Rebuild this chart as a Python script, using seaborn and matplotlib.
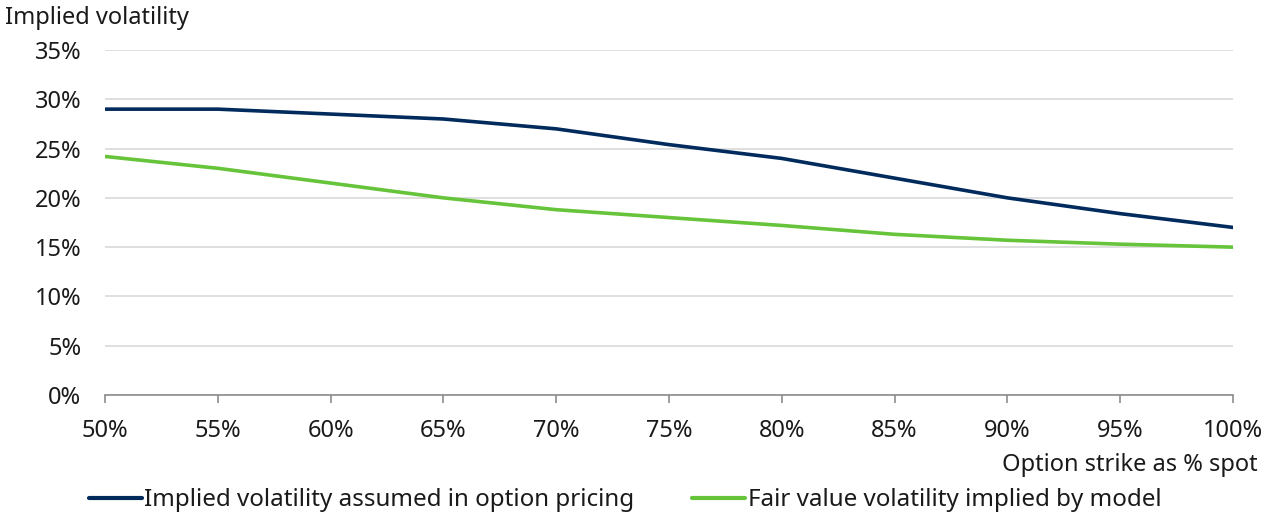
import matplotlib
matplotlib.use("Agg")
import matplotlib.pyplot as plt
import seaborn as sns
import pandas as pd
from matplotlib.lines import Line2D

# Option strike as % of spot
strikes = [50, 55, 60, 65, 70, 75, 80, 85, 90, 95, 100]
implied_vol = [29.0, 29.0, 28.5, 28.0, 27.0, 25.4, 24.0, 22.0, 20.0, 18.4, 17.0]
fair_vol = [24.2, 23.0, 21.5, 20.0, 18.8, 18.0, 17.2, 16.3, 15.7, 15.3, 15.0]

series_names = ["Implied volatility assumed in option pricing",
                "Fair value volatility implied by model"]
series_colors = ["#002b5c", "#66c43a"]

x_ticks = list(range(50, 101, 5))
y_ticks = list(range(0, 36, 5))

df = pd.concat([
    pd.DataFrame({"strike": strikes, "vol": implied_vol, "series": series_names[0]}),
    pd.DataFrame({"strike": strikes, "vol": fair_vol, "series": series_names[1]}),
])

sns.set_theme(style="white")
plt.rcParams["font.family"] = ["Noto Sans", "DejaVu Sans"]
FS = 17

fig = plt.figure(figsize=(12.61, 5.19), dpi=100)
ax = fig.add_axes([105 / 1261, 1 - 395 / 519, (1233 - 105) / 1261, (395 - 50) / 519])

sns.lineplot(data=df, x="strike", y="vol", hue="series", palette=series_colors,
             hue_order=series_names, linewidth=2.6, ax=ax, legend=False)

ax.set_xlim(50, 100)
ax.set_ylim(0, 35)
ax.set_xticks(x_ticks)
ax.set_xticklabels([f"{t}%" for t in x_ticks], fontsize=FS, color="#1a1a1a")
ax.set_yticks(y_ticks)
ax.set_yticklabels([f"{t}%" for t in y_ticks], fontsize=FS, color="#1a1a1a")
ax.yaxis.grid(True, color="#d9d9d9", linewidth=1.2)
ax.set_axisbelow(True)
for side in ["top", "right", "left"]:
    ax.spines[side].set_visible(False)
ax.spines["bottom"].set_color("#8c8c8c")
ax.spines["bottom"].set_linewidth(1.2)
ax.tick_params(axis="x", bottom=True, direction="out", length=6, width=1.2,
               color="#8c8c8c", pad=11)
ax.tick_params(axis="y", left=False, length=0, pad=17)
ax.set_xlabel("")
ax.set_ylabel("")

fig.text(5 / 1261, 1 - 18 / 519, "Implied volatility", fontsize=FS,
         color="#1a1a1a", ha="left", va="center")
fig.text(1258 / 1261, 1 - 465 / 519, "Option strike as % spot", fontsize=FS,
         color="#1a1a1a", ha="right", va="center")

handles = [Line2D([0], [0], color=c, linewidth=3) for c in series_colors]
fig.legend(handles, series_names, loc="center", bbox_to_anchor=(625 / 1261, 1 - 500 / 519),
           ncol=2, frameon=False, fontsize=17.4, handlelength=2.2, handletextpad=0.1,
           columnspacing=2.4, labelcolor="#1a1a1a", borderpad=0)

fig.savefig("out.png", dpi=100)
